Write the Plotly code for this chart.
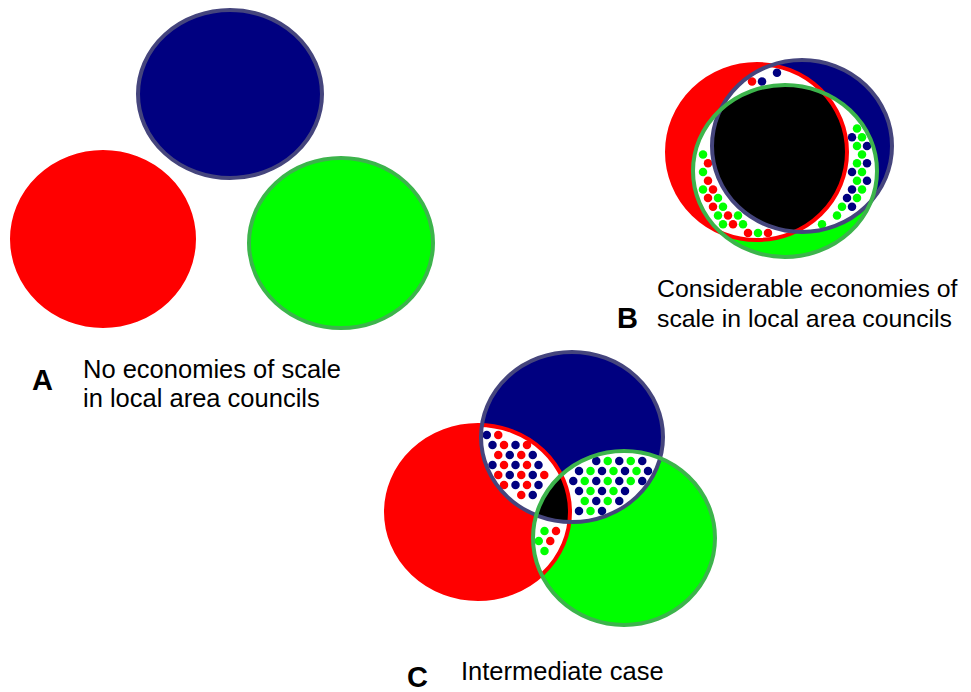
import numpy as np
import plotly.graph_objects as go

W, H = 971, 692
OFF = 8  # page body margin of the html page

# ---- circle geometry per panel (pixel space): A, B, C ----
panels = ["A", "B", "C"]
red_cx = [103, 757, 478]
red_cy = [239, 152, 512]
red_rx = [91, 90, 92]
red_ry = [87, 88, 87]

blue_cx = [230, 802, 572]
blue_cy = [94, 146, 437]
blue_rx = [92, 90, 91]
blue_ry = [84, 86, 85]

green_cx = [341, 785, 624]
green_cy = [243, 171, 538]
green_rx = [92, 92, 91]
green_ry = [85, 86, 87]

fill_colors = {"red": "#ff0000", "blue": "#000080", "green": "#00ff00"}
line_colors = {"red": "#ff0000", "blue": "#45457d", "green": "#3cb44b"}

# speckle spacing per panel (visual texture only)
speckle_step = [10, 10, 11.5]

# ---- text labels ----
panel_letters = ["A", "B", "C"]
letter_x = [30, 615, 405]
letter_y = [380, 318, 677]
caption_lines = [
    ["No economies of scale", "in local area councils"],
    ["Considerable economies of", "scale in local area councils"],
    ["Intermediate case"],
]
caption_x = [81, 655, 459]
caption_y = [[369, 398], [288, 318], [671]]
caption_size = [25.5, 24.8, 25.5]


def circ(name, i):
    d = {"red": (red_cx, red_cy, red_rx, red_ry),
         "blue": (blue_cx, blue_cy, blue_rx, blue_ry),
         "green": (green_cx, green_cy, green_rx, green_ry)}[name]
    return (d[0][i], d[1][i], d[2][i], d[3][i])


def boundary(c, n=360):
    t = np.linspace(0, 2 * np.pi, n, endpoint=False)
    return c[0] + c[2] * np.cos(t), c[1] + c[3] * np.sin(t)


def inside(c, x, y, pad=0.0):
    return ((x - c[0]) / (c[2] + pad)) ** 2 + ((y - c[1]) / (c[3] + pad)) ** 2 <= 1.0


def intersection_path(cs):
    xs, ys = [], []
    for k, c in enumerate(cs):
        bx, by = boundary(c)
        m = np.ones_like(bx, dtype=bool)
        for j, o in enumerate(cs):
            if j != k:
                m &= inside(o, bx, by, 0.01)
        xs.append(bx[m]); ys.append(by[m])
    x = np.concatenate(xs); y = np.concatenate(ys)
    if len(x) < 3:
        return None
    mx, my = x.mean(), y.mean()
    order = np.argsort(np.arctan2(y - my, x - mx))
    x, y = x[order], y[order]
    return "M " + " L ".join(f"{a:.2f},{b:.2f}" for a, b in zip(x, y)) + " Z"


shapes = []
traces = []
names = ["red", "blue", "green"]

for i in range(len(panels)):
    cs = {n: circ(n, i) for n in names}
    # solid fills
    for n in names:
        c = cs[n]
        shapes.append(dict(type="circle", xref="x", yref="y", layer="below",
                           x0=c[0] - c[2], x1=c[0] + c[2], y0=c[1] - c[3], y1=c[1] + c[3],
                           fillcolor=fill_colors[n], line=dict(width=0)))
    # pairwise overlaps: white
    pairs = [("red", "blue", "green"), ("blue", "green", "red"), ("red", "green", "blue")]
    for a, b, other in pairs:
        p = intersection_path([cs[a], cs[b]])
        if p:
            shapes.append(dict(type="path", path=p, xref="x", yref="y", layer="below",
                               fillcolor="white", line=dict(width=0)))
    # triple overlap: black
    p3 = intersection_path([cs[n] for n in names])
    if p3:
        shapes.append(dict(type="path", path=p3, xref="x", yref="y", layer="below",
                           fillcolor="black", line=dict(width=0)))
    # speckle pattern inside pairwise-only overlaps
    for a, b, other in pairs:
        if not intersection_path([cs[a], cs[b]]):
            continue
        s = speckle_step[i]
        pad = 5.5
        ca, cb = cs[a], cs[b]
        x0 = max(ca[0] - ca[2], cb[0] - cb[2]); x1 = min(ca[0] + ca[2], cb[0] + cb[2])
        y0 = max(ca[1] - ca[3], cb[1] - cb[3]); y1 = min(ca[1] + ca[3], cb[1] + cb[3])
        pts = {a: ([], []), b: ([], [])}
        r = 0
        yy = y0
        while yy <= y1:
            xx = x0 + (s / 2 if r % 2 else 0)
            k = 0
            while xx <= x1:
                if inside(ca, xx, yy, -pad) and inside(cb, xx, yy, -pad) and not inside(cs[other], xx, yy, pad):
                    col = a if (k + r) % 2 == 0 else b
                    pts[col][0].append(xx); pts[col][1].append(yy)
                xx += s
                k += 1
            yy += s * 0.87
            r += 1
        for col, (px, py) in pts.items():
            if px:
                traces.append(go.Scatter(x=px, y=py, mode="markers", hoverinfo="skip",
                                         marker=dict(size=8.5, color=fill_colors[col],
                                                     symbol="circle", line=dict(width=0))))
    # outlines on top
    for n in names:
        c = cs[n]
        shapes.append(dict(type="circle", xref="x", yref="y", layer="above",
                           x0=c[0] - c[2], x1=c[0] + c[2], y0=c[1] - c[3], y1=c[1] + c[3],
                           fillcolor="rgba(0,0,0,0)", line=dict(width=4, color=line_colors[n])))

fig = go.Figure(traces)

annotations = []
for i in range(len(panels)):
    annotations.append(dict(x=letter_x[i], y=letter_y[i], xref="x", yref="y", text=f"<b>{panel_letters[i]}</b>",
                            showarrow=False, xanchor="left", yanchor="middle",
                            font=dict(family="Arial, Liberation Sans, sans-serif", size=29, color="black")))
    for line, ly in zip(caption_lines[i], caption_y[i]):
        annotations.append(dict(x=caption_x[i], y=ly, xref="x", yref="y", text=line,
                                showarrow=False, xanchor="left", yanchor="middle",
                                font=dict(family="Arial, Liberation Sans, sans-serif",
                                          size=caption_size[i], color="black")))

fig.update_layout(
    width=W - OFF, height=H - OFF,
    margin=dict(l=0, r=0, t=0, b=0),
    paper_bgcolor="white", plot_bgcolor="white",
    showlegend=False,
    xaxis=dict(range=[OFF, W], visible=False, autorange=False),
    yaxis=dict(range=[H, OFF], visible=False, autorange=False),
    shapes=shapes,
    annotations=annotations,
)
fig.write_html("out.html")
